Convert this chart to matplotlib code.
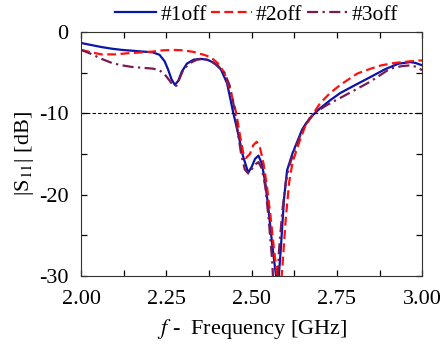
import matplotlib
matplotlib.use('Agg')
import matplotlib.pyplot as plt
from matplotlib.ticker import MultipleLocator

plt.rcParams['font.family'] = ['Liberation Serif', 'DejaVu Serif']
plt.rcParams['mathtext.fontset'] = 'stix'
plt.rcParams['axes.unicode_minus'] = False

# #1off
f1 = [2.00, 2.03, 2.06, 2.09, 2.12, 2.15, 2.18, 2.21, 2.23, 2.245, 2.255, 2.265, 2.275, 2.285,
      2.295, 2.31, 2.33, 2.35, 2.37, 2.39, 2.40, 2.41, 2.428, 2.446, 2.46, 2.475, 2.49, 2.50,
      2.51, 2.52, 2.53, 2.54, 2.55, 2.56, 2.57, 2.577, 2.585, 2.595, 2.604, 2.62, 2.648, 2.66,
      2.68, 2.70, 2.73, 2.76, 2.80, 2.85, 2.89, 2.93, 2.965, 2.98, 3.00]
s1 = [-1.35, -1.6, -1.85, -2.05, -2.2, -2.3, -2.4, -2.5, -2.8, -3.6, -4.6, -5.8, -6.5, -6.0,
      -4.9, -3.9, -3.4, -3.3, -3.4, -3.8, -4.2, -4.6, -6.3, -9.9, -12.4, -15.3, -17.3, -16.6,
      -15.6, -15.2, -16.2, -18.5, -22.0, -26.0, -29.5, -31.5, -27.0, -20.5, -17.0, -14.9, -12.0, -11.2,
      -10.2, -9.4, -8.4, -7.5, -6.6, -5.5, -4.6, -3.9, -3.7, -3.8, -4.1]

# #2off
f2 = [2.00, 2.03, 2.06, 2.10, 2.14, 2.18, 2.21, 2.24, 2.27, 2.30, 2.33, 2.36, 2.38, 2.40,
      2.42, 2.44, 2.455, 2.465, 2.475, 2.483, 2.495, 2.505, 2.515, 2.525, 2.535, 2.545, 2.555,
      2.565, 2.575, 2.584, 2.59, 2.60, 2.61, 2.62, 2.64, 2.655, 2.672, 2.70, 2.73, 2.76, 2.81,
      2.85, 2.88, 2.92, 2.965, 2.99, 3.00]
s2 = [-2.2, -2.5, -2.75, -2.75, -2.6, -2.5, -2.4, -2.25, -2.2, -2.25, -2.45, -2.8, -3.1, -3.8,
      -5.0, -7.5, -10.0, -12.5, -14.8, -15.5, -15.0, -13.9, -13.5, -14.3, -16.2, -19.0, -22.5,
      -26.5, -30.0, -32.0, -29.0, -23.0, -18.5, -16.0, -13.5, -11.8, -10.6, -8.8, -7.5, -6.5, -5.1,
      -4.5, -4.1, -3.8, -3.6, -3.5, -3.5]

# #3off
f3 = [2.00, 2.03, 2.06, 2.09, 2.12, 2.15, 2.18, 2.21, 2.23, 2.245, 2.26, 2.27, 2.28, 2.29,
      2.30, 2.32, 2.34, 2.36, 2.38, 2.40, 2.42, 2.435, 2.45, 2.46, 2.47, 2.48, 2.49, 2.50,
      2.51, 2.52, 2.53, 2.54, 2.55, 2.56, 2.565, 2.57, 2.575, 2.58, 2.59, 2.60, 2.61, 2.63,
      2.65, 2.67, 2.69, 2.72, 2.76, 2.80, 2.848, 2.906, 2.94, 2.965, 2.985, 3.00]
s3 = [-2.2, -2.7, -3.3, -3.8, -4.1, -4.3, -4.4, -4.5, -4.7, -5.2, -6.0, -6.6, -6.6, -5.6,
      -4.6, -3.8, -3.4, -3.3, -3.6, -4.1, -5.0, -6.5, -9.5, -12.5, -15.2, -16.9, -17.4, -16.9,
      -16.3, -16.0, -16.8, -19.0, -23.0, -28.0, -32.0, -35.0, -32.0, -27.0, -22.0, -18.5, -16.5, -14.0,
      -12.0, -10.6, -9.8, -9.0, -8.1, -7.2, -6.1, -4.5, -4.2, -4.1, -4.3, -4.7]

fig = plt.figure(figsize=(4.43, 3.48), dpi=100)
ax = fig.add_axes([0.183, 0.207, 0.77, 0.701])

ax.plot(f1, s1, color='#0a14a8', lw=1.6, label='#1off')
ax.plot(f2, s2, color='#ff1010', lw=1.6, ls=(0, (4, 2)), label='#2off')
ax.plot(f3, s3, color='#7a1a50', lw=1.6, ls=(0, (5, 2, 1, 2)), label='#3off')
ax.axhline(-10, color='black', lw=0.8, ls=(0, (3, 2)))

ax.set_xlim(2.0, 3.0)
ax.set_ylim(-30, 0)
ax.xaxis.set_major_locator(MultipleLocator(0.25))
ax.xaxis.set_minor_locator(MultipleLocator(0.125))
ax.yaxis.set_major_locator(MultipleLocator(10))
ax.yaxis.set_minor_locator(MultipleLocator(5))
ax.tick_params(which='both', direction='in', top=True, right=True, labelsize=16, width=0.9, length=4)
ax.tick_params(axis='x', pad=10)
ax.tick_params(axis='y', pad=9)
ax.xaxis.set_major_formatter(plt.FuncFormatter(lambda v, p: f'{v:.2f}'))
ax.yaxis.set_major_formatter(plt.FuncFormatter(lambda v, p: f'{v:.0f}'))
for sp in ax.spines.values():
    sp.set_color('#333333')

ax.set_ylabel('|S$_{11}$| [dB]', fontsize=16, labelpad=2)
ax.set_xlabel('$f$ -  Frequency [GHz]', fontsize=16, labelpad=6)

ax.legend(loc='lower center', bbox_to_anchor=(0.515, 0.995), ncol=3, frameon=False,
          fontsize=15.5, handlelength=1.9, handletextpad=0.2, columnspacing=0.2,
          borderaxespad=0.0)

fig.savefig('out.png', dpi=100)
